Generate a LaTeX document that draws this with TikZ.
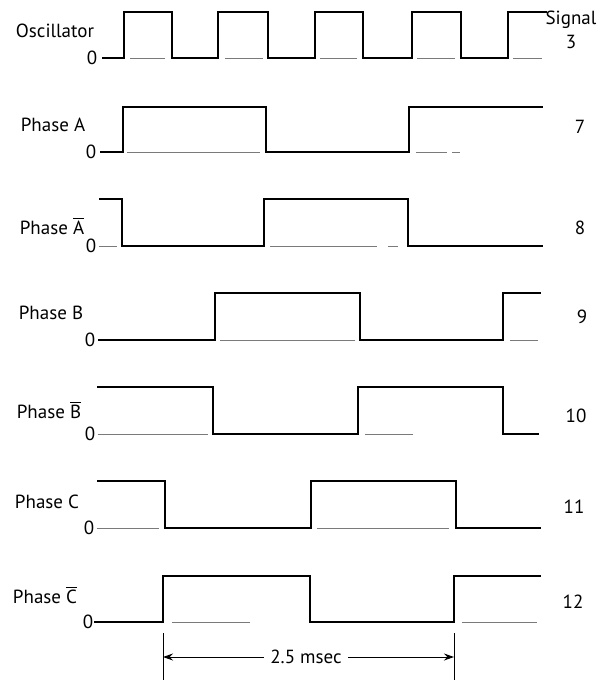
\documentclass[tikz,border=0pt]{standalone}
\usepackage{fontspec}
\setmainfont{PT Sans}
\usetikzlibrary{arrows.meta,positioning}
\definecolor{ZeroGray}{HTML}{7A7A7A}

\begin{document}
\begin{tikzpicture}[x=0.5pt, y=-0.5pt,
  wave/.style={line width=1.2pt, line join=miter},
  zeroline/.style={line width=0.5pt, ZeroGray},
  lbl/.style={font=\fontsize{9.5}{11}\selectfont, inner sep=1pt},
  num/.style={font=\fontsize{9.5}{11}\selectfont, inner sep=1pt},
  dimline/.style={line width=0.5pt},
  dimarr/.style={line width=0.5pt, -{Stealth[length=5pt,width=3.5pt]}}
]
  \useasboundingbox (0,0) rectangle (611,681);

  % signal names and zero levels
  \node[lbl] (osc) at (55,31)  {Oscillator};
  \node[lbl] (phA) at (53,125) {Phase A};
  \node[lbl] (phAn) at (52,226) {Phase $\overline{\mbox{A}}$};
  \node[lbl] (phB) at (51,313) {Phase B};
  \node[lbl] (phBn) at (49,410) {Phase $\overline{\mbox{B}}$};
  \node[lbl] (phC) at (47,502) {Phase C};
  \node[lbl] (phCn) at (45,595) {Phase $\overline{\mbox{C}}$};

  \node[lbl] (zO)  at (92,58)  {0};
  \node[lbl] (zA)  at (91,152) {0};
  \node[lbl] (zAn) at (91,246) {0};
  \node[lbl] (zB)  at (90,340) {0};
  \node[lbl] (zBn) at (90,434) {0};
  \node[lbl] (zC)  at (89,528) {0};
  \node[lbl] (zCn) at (88,622) {0};

  % signal numbers
  \node[num] (sig) at (571,20) {Signal};
  \node[num, below=1pt of sig] (s3) {3};
  \node[num] (s7)  at (580,127) {7};
  \node[num] (s8)  at (580,228) {8};
  \node[num] (s9)  at (582,317) {9};
  \node[num] (s10) at (576,416) {10};
  \node[num] (s11) at (574,507) {11};
  \node[num] (s12) at (573,602) {12};

  % oscillator
  \draw[wave] (102,58) -| (124,12) -| (172,58) -| (218,12) -| (268,58)
    -| (315,12) -| (363,58) -| (412,12) -| (461,58) -| (508,12) -- (547,12);
  \foreach \a/\b in {130/165, 225/263, 320/357, 417/455, 513/542}
    \draw[zeroline] (\a,58) -- (\b,58);

  % phase A
  \draw[wave] (100,152) -| (123,107) -| (266,152) -| (409,107) -- (543,107);
  \draw[zeroline] (127,152) -- (260,152);
  \draw[zeroline] (416,152) -- (447,152) (452,152) -- (460,152);

  % phase A bar
  \draw[wave] (99,199) -| (122,246) -| (264,199) -| (408,246) -- (543,246);
  \draw[zeroline] (zAn.east) -- (117,246);
  \draw[zeroline] (270,246) -- (377,246) (388,246) -- (398,246);

  % phase B
  \draw[wave] (98,340) -| (215,293) -| (360,340) -| (503,293) -- (541,293);
  \draw[zeroline] (220,340) -- (355,340) (510,340) -- (538,340);

  % phase B bar
  \draw[wave] (97,387) -| (213,434) -| (358,387) -| (503,434) -- (539,434);
  \draw[zeroline] (zBn.east) -- (208,434);
  \draw[zeroline] (365,434) -- (413,434);

  % phase C
  \draw[wave] (97,481) -| (165,528) -| (311,481) -| (456,528) -- (541,528);
  \draw[zeroline] (zC.east) -- (159,528);
  \draw[zeroline] (317,528) -- (449,528);

  % phase C bar
  \draw[wave] (94,622) -| (163,576) -| (310,622) -| (454,576) -- (541,576);
  \draw[zeroline] (172,622) -- (250,622) (462,622) -- (537,622);

  % period
  \coordinate (perL) at (163,657);
  \coordinate (perR) at (454,657);
  \draw[dimline] (163,633) -- (163,680);
  \draw[dimline] (454,633) -- (454,680);
  \node[lbl, inner sep=3pt] (per) at (306,657) {2.5 msec};
  \draw[dimarr] (per.west) -- (perL);
  \draw[dimarr] (per.east) -- (perR);
\end{tikzpicture}
\end{document}
